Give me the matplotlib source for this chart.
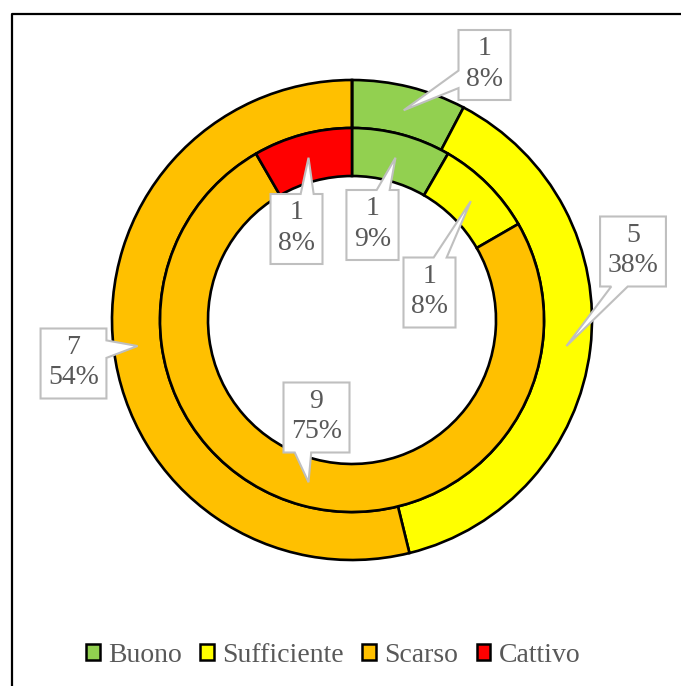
import numpy as np
import matplotlib
matplotlib.use("Agg")
import matplotlib.pyplot as plt
from matplotlib.patches import Patch, Polygon
from matplotlib.lines import Line2D

# Dati: anello esterno e anello interno
categorie = ["Buono", "Sufficiente", "Scarso", "Cattivo"]
colori = ["#92D050", "#FFFF00", "#FFC000", "#FF0000"]
esterno = [1, 5, 7, 0]
interno = [1, 1, 9, 1]

W, H = 681, 686
plt.rcParams["font.family"] = ["Liberation Serif", "DejaVu Serif"]
GRIGIO = "#595959"


def percentuali(valori):
    # percentuali intere con somma 100 (resti maggiori)
    v = np.array(valori, float)
    quote = v / v.sum() * 100
    base = np.floor(quote).astype(int)
    resto = quote - base
    mancano = int(100 - base.sum())
    for i in np.argsort(-resto, kind="stable")[:mancano]:
        base[i] += 1
    return base


fig = plt.figure(figsize=(W / 100, H / 100), dpi=100)
ax = fig.add_axes([0, 0, 1, 1])

cx, cy = 352, 366
r_est, r_int, spess = 240, 192, 48
wp = dict(width=spess, edgecolor="black", linewidth=1.9)
ax.pie(esterno, radius=r_est, center=(cx, cy), colors=colori,
       startangle=90, counterclock=False, wedgeprops=wp)
ax.pie(interno, radius=r_int, center=(cx, cy), colors=colori,
       startangle=90, counterclock=False, wedgeprops=wp)
ax.set_xlim(0, W)
ax.set_ylim(0, H)
ax.set_aspect("equal")
ax.axis("off")

renderer = fig.canvas.get_renderer()


def fumetto(testo, centro, punta):
    t = ax.text(centro[0], centro[1] + 1, testo, ha="center", va="center",
                ma="center", fontsize=20, color=GRIGIO, linespacing=1.3,
                zorder=6)
    bb = t.get_window_extent(renderer)
    w, h = bb.width + 15, 70
    x0, x1 = centro[0] - w / 2, centro[0] + w / 2
    y0, y1 = centro[1] - h / 2, centro[1] + h / 2
    angoli = [np.array(p, float) for p in [(x0, y0), (x1, y0), (x1, y1), (x0, y1)]]
    punta = np.array(punta, float)
    dx, dy = punta[0] - centro[0], punta[1] - centro[1]
    if abs(dx) / w > abs(dy) / h:
        lato = 1 if dx > 0 else 3
    else:
        lato = 2 if dy > 0 else 0
    a, b = angoli[lato], angoli[(lato + 1) % 4]
    e = b - a
    tt = np.dot(punta - a, e) / np.dot(e, e)
    f1, f2 = (0.17, 0.42) if tt < 0.5 else (0.58, 0.83)
    vert = angoli[:lato + 1] + [a + f1 * e, punta, a + f2 * e] + angoli[lato + 1:]
    ax.add_patch(Polygon(vert, closed=True, facecolor="white",
                         edgecolor="#BFBFBF", linewidth=1.5, zorder=5))


def etichette(valori, r_mezzo, centri):
    pct = percentuali(valori)
    tot = sum(valori)
    inizio = 0.0
    for i, v in enumerate(valori):
        ang = np.radians((inizio + v / 2) / tot * 360)
        inizio += v
        if v == 0:
            continue
        punta = (cx + r_mezzo * np.sin(ang), cy + r_mezzo * np.cos(ang))
        fumetto(f"{v}\n{pct[i]}%", centri[i], punta)


# posizione dei riquadri delle etichette
etichette(esterno, r_est - spess / 2,
          [(484.5, 621), (633, 434.5), (73.5, 322.5), None])
etichette(interno, r_int - spess / 2,
          [(372.5, 461), (429.5, 393.5), (316.5, 268.5), (296.5, 457)])

maniglie = [Patch(facecolor=c, edgecolor="black", linewidth=1.8) for c in colori]
fig.legend(maniglie, categorie, loc="center", bbox_to_anchor=(333 / W, 31 / H),
           ncol=4, frameon=False, fontsize=20, handlelength=0.5,
           handleheight=0.5, handletextpad=0.3, columnspacing=0.66,
           labelcolor=GRIGIO)

# cornice del grafico
fig.add_artist(Line2D([11.5 / W, 11.5 / W, 1], [0, 1 - 13.5 / H, 1 - 13.5 / H],
                      transform=fig.transFigure, color="black", linewidth=1.6))

fig.savefig("out.png", dpi=100)
